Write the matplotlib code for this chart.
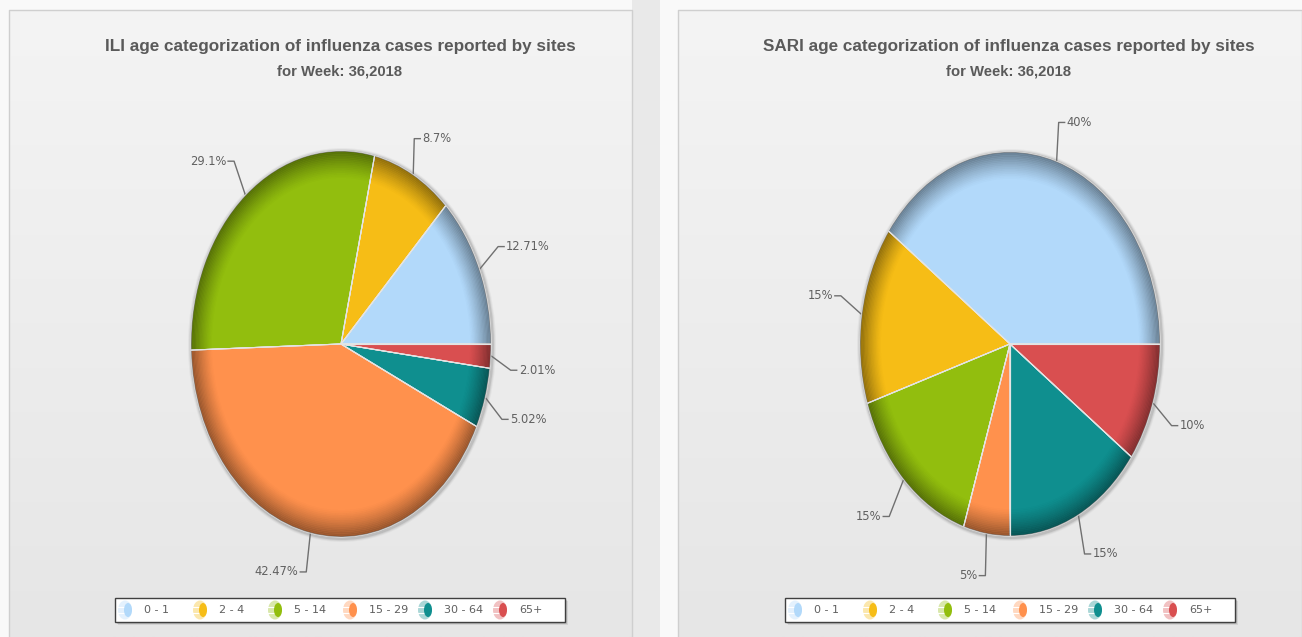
import numpy as np
import matplotlib
matplotlib.use("Agg")
import matplotlib.pyplot as plt
from matplotlib.patches import Wedge, Rectangle, Ellipse

W, H = 1302, 637

categories = ["0 - 1", "2 - 4", "5 - 14", "15 - 29", "30 - 64", "65+"]
colors = ["#B2D9FA", "#F6BD16", "#92BE0E", "#FF914D", "#0F8F8F", "#D94F50"]

ili_values = [12.71, 8.7, 29.1, 42.47, 5.02, 2.01]
ili_labels = ["12.71%", "8.7%", "29.1%", "42.47%", "5.02%", "2.01%"]
sari_values = [40, 15, 15, 5, 15, 10]
sari_labels = ["40%", "15%", "15%", "5%", "15%", "10%"]

ili_title = "ILI age categorization of influenza cases reported by sites"
sari_title = "SARI age categorization of influenza cases reported by sites"
subtitle = "for Week: 36,2018"

# leader elbow offsets (pixels from rim anchor)
ili_elbows = [(18, -22), (1, -35), (-11, -33), (-4, 38), (16, 21), (19, 14)]
sari_elbows = [(2, -38), (-20, -18), (-14, 36), (-1, 41), (6, 38), (18, 22)]

TXT = "#606060"
fig = plt.figure(figsize=(W / 100, H / 100), dpi=100)
bg = fig.add_axes([0, 0, 1, 1])
bg.set_xlim(0, W)
bg.set_ylim(H, 0)
bg.axis("off")
bg.add_patch(Rectangle((0, 0), W, H, fc="#F9F9F9", ec="none", zorder=0))
bg.add_patch(Rectangle((632, 0), 28, H, fc="#E9E9E9", ec="none", zorder=0))
grad = np.linspace(0, 1, 256).reshape(-1, 1)
cmap = matplotlib.colors.LinearSegmentedColormap.from_list("p", ["#F4F4F4", "#E6E6E6"])


def panel(x0, x1):
    bg.imshow(grad, extent=(x0, x1, H, 10), cmap=cmap, aspect="auto", zorder=1)
    bg.plot([x0, x0, x1, x1], [H, 10, 10, H], color="#CFCFCF", lw=1, zorder=2)


panel(9, 632)
panel(678, 1302)
bg.set_xlim(0, W)
bg.set_ylim(H, 0)


def draw_pie(values, labels, elbows, cx, cy, rx, ry, title, legend_x):
    # titles
    tx = cx - 1
    bg.text(tx, 47, title, ha="center", va="center", fontsize=12.35,
            fontweight="bold", family="Liberation Sans", color="#5A5A5A", zorder=5)
    bg.text(tx, 72, subtitle, ha="center", va="center", fontsize=10.7,
            fontweight="bold", family="Liberation Sans", color="#5A5A5A", zorder=5)

    # outer soft rim
    for grow, a in [(4, 0.08), (3, 0.14), (2, 0.25)]:
        bg.add_patch(Ellipse((cx + 1, cy + 1), 2 * (rx + grow), 2 * (ry + grow),
                             fc="#808080", ec="none", alpha=a, zorder=3))

    ax = fig.add_axes([(cx - rx) / W, 1 - (cy + ry) / H, 2 * rx / W, 2 * ry / H], zorder=4)
    wedges, _ = ax.pie(values, colors=colors, startangle=0, counterclock=True, radius=1,
                       wedgeprops=dict(edgecolor="#E8E8E8", linewidth=0.8))
    ax.set_aspect("auto")
    ax.set_xlim(-1, 1)
    ax.set_ylim(-1, 1)
    ax.patch.set_alpha(0)

    # inner bevel shading
    n = 16
    edges = np.linspace(0.86, 1.0, n + 1)
    for w in wedges:
        for k in range(n):
            a = 0.42 * ((k + 1) / n) ** 1.3
            ax.add_patch(Wedge((0, 0), edges[k + 1], w.theta1, w.theta2,
                               width=edges[k + 1] - edges[k], fc="black", ec="none",
                               alpha=a, zorder=3))
        for th in (w.theta1, w.theta2):
            ax.plot([0, np.cos(np.radians(th))], [0, np.sin(np.radians(th))],
                    color="#E4E4E4", lw=0.8, zorder=4, solid_capstyle="butt")

    # leaders and labels
    total = sum(values)
    cum = 0.0
    for v, lab, (ex, ey) in zip(values, labels, elbows):
        ang = np.radians((cum + v / 2) / total * 360)
        cum += v
        ax0 = cx + (rx + 1) * np.cos(ang)
        ay0 = cy - (ry + 1) * np.sin(ang)
        elx, ely = ax0 + ex, ay0 + ey
        sgn = 1 if np.cos(ang) > 0 else -1
        bg.plot([ax0, elx, elx + sgn * 6], [ay0, ely, ely], color="#707070", lw=1, zorder=5)
        bg.text(elx + sgn * 8, ely, lab, ha="left" if sgn > 0 else "right", va="center",
                fontsize=8.3, family="DejaVu Sans", color=TXT, zorder=6)

    # legend
    lw, lh = 450, 24
    ly = 598
    for d, a in [(3, 0.12), (2, 0.2), (1, 0.3)]:
        bg.add_patch(Rectangle((legend_x + d, ly + d), lw, lh, fc="#505050", ec="none",
                               alpha=a, zorder=5))
    bg.add_patch(Rectangle((legend_x, ly), lw, lh, fc="white", ec="#404040", lw=1, zorder=6))
    for i, (cat, col) in enumerate(zip(categories, colors)):
        ix = legend_x + 10 + 75 * i
        iy = ly + 12
        bg.add_patch(Ellipse((ix, iy), 14, 19, fc=col, ec="none", alpha=0.35, zorder=7))
        bg.plot([ix - 7, ix + 1], [iy - 3, iy - 3], color="white", lw=0.8, zorder=8)
        bg.plot([ix - 7, ix + 1], [iy + 3, iy + 3], color="white", lw=0.8, zorder=8)
        bg.add_patch(Ellipse((ix + 3, iy), 8, 14, fc=col, ec="none", zorder=8))
        bg.text(ix + 19, iy, cat, ha="left", va="center", fontsize=8.0,
                family="DejaVu Sans", color=TXT, zorder=8)


draw_pie(ili_values, ili_labels, ili_elbows, 341, 344, 150, 193, ili_title, 115)
draw_pie(sari_values, sari_labels, sari_elbows, 1010, 344, 150, 192, sari_title, 785)

fig.savefig("out.png", dpi=100)
